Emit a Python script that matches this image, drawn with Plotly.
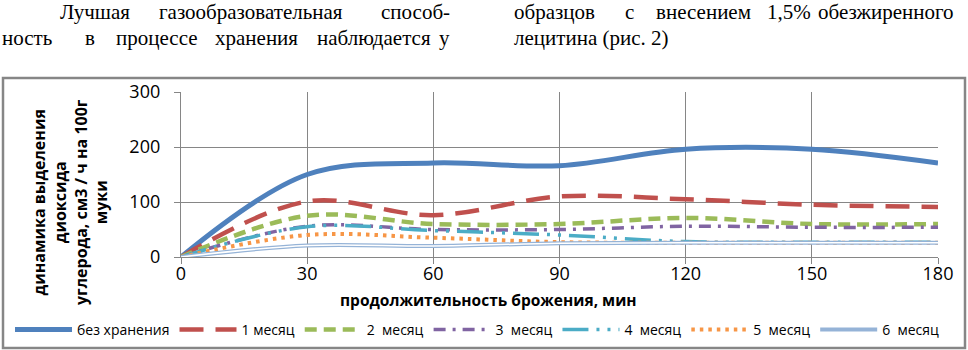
import plotly.graph_objects as go

# ---- data ----
minutes = [0, 30, 60, 90, 120, 150, 180]
series_names = ["без хранения", "1 месяц", "2\u00a0 месяц", "3\u00a0 месяц",
                "4\u00a0 месяц", "5\u00a0 месяц", "6\u00a0 месяц"]
no_storage = [0, 150, 171, 166, 196, 196, 171]
month_1 = [0, 101, 76, 110, 105, 95, 91]
month_2 = [0, 75, 60, 60, 71, 60, 60]
month_3 = [0, 56, 50, 50, 56, 54, 54]
month_4 = [0, 55, 48, 40, 28, 27, 27]
month_5 = [0, 40, 35, 27, 26, 26, 26]
month_6 = [0, 21, 20, 25, 26, 26, 26]
x_ticks = [0, 30, 60, 90, 120, 150, 180]
y_ticks = [0, 100, 200, 300]

# ---- layout geometry (window pixels) ----
W, H = 968, 350
PLOT_L, PLOT_R, PLOT_T, PLOT_B = 181, 938, 92, 257
L, R, T, B = PLOT_L, W - PLOT_R, PLOT_T, H - PLOT_B
PW, PH = W - L - R, H - T - B


def px(x):
    return (x - L) / PW


def py(y):
    return (H - B - y) / PH


styles = [
    dict(color="#4F81BD", width=5, dash="solid"),
    dict(color="#C0504D", width=4.5, dash="24px,12px"),
    dict(color="#9BBB59", width=4.5, dash="12px,7px"),
    dict(color="#8064A2", width=3.5, dash="12px,7px,3px,7px"),
    dict(color="#4BACC6", width=3.5, dash="26px,8px,3px,8px,3px,8px"),
    dict(color="#F79646", width=4, dash="3.5px,5px"),
    dict(color="#95B3D7", width=4, dash="solid"),
]
values = [no_storage, month_1, month_2, month_3, month_4, month_5, month_6]

fig = go.Figure()
for name, vals, st in zip(series_names, values, styles):
    fig.add_trace(go.Scatter(
        x=minutes, y=vals, name=name, mode="lines",
        line=dict(color=st["color"], width=st["width"], dash=st["dash"],
                  shape="spline", smoothing=1.0),
    ))
# inner white stroke for the double (compound) line of the last series
fig.add_trace(go.Scatter(
    x=minutes, y=month_6, mode="lines", showlegend=False, hoverinfo="skip",
    line=dict(color="white", width=1.5, shape="spline", smoothing=1.0),
))

grid = "#868686"
sans = "Open Sans, Noto Sans, sans-serif"
axis_font = dict(family=sans, size=18, color="#000")
fig.update_xaxes(
    range=[0, 180], tickvals=x_ticks, ticktext=[str(v) for v in x_ticks],
    showgrid=True, gridcolor=grid, gridwidth=1.3,
    showline=True, linecolor=grid, linewidth=1.3,
    ticks="outside", ticklen=6, tickcolor=grid, tickwidth=1.3,
    tickfont=axis_font, zeroline=False, ticklabelstandoff=-6,
)
fig.update_yaxes(
    range=[0, 300], tickvals=y_ticks, ticktext=[str(v) for v in y_ticks],
    showgrid=True, gridcolor=grid, gridwidth=1.3,
    showline=True, linecolor=grid, linewidth=1.3,
    ticks="outside", ticklen=6, tickcolor=grid, tickwidth=1.3,
    tickfont=axis_font, zeroline=False, ticklabelstandoff=10,
)

annotations = []
# y-axis title
annotations.append(dict(
    text="<b>динамика выделения<br>диоксида<br>углерода, см3 / ч на 100г<br>муки</b>",
    x=px(70), y=py(202), xref="paper", yref="paper", textangle=-90,
    showarrow=False, xanchor="center", yanchor="middle", align="center",
    font=dict(family=sans, size=16, color="#000"),
))
# x-axis title
annotations.append(dict(
    text="<b>продолжительность брожения, мин</b>",
    x=px(488), y=py(300), xref="paper", yref="paper", showarrow=False,
    xanchor="center", yanchor="middle",
    font=dict(family=sans, size=15.5, color="#000"),
))

# paragraph text above the figure (justified, placed word by word)
serif = dict(family="Liberation Serif, Times New Roman, serif", size=21, color="#000")
line1_words = [("Лучшая", 58, "left"), ("газообразовательная", 157, "left"),
               ("способ-", 452, "right"),
               ("образцов", 512, "left"), ("с", 623, "left"), ("внесением", 654, "left"),
               ("1,5%", 765, "left"), ("обезжиренного", 956, "right")]
line2_words = [("ность", 0, "left"), ("в", 83, "left"), ("процессе", 114, "left"),
               ("хранения", 213, "left"), ("наблюдается", 315, "left"), ("у", 452, "right"),
               ("лецитина (рис. 2)", 512, "left")]
for words, yy in ((line1_words, 12), (line2_words, 38)):
    for w, xx, anc in words:
        annotations.append(dict(
            text=w, x=px(xx), y=py(yy), xref="paper", yref="paper", showarrow=False,
            xanchor=anc, yanchor="middle", font=serif,
        ))

fig.update_layout(
    width=W, height=H, autosize=False,
    margin=dict(l=L, r=R, t=T, b=B, pad=0, autoexpand=False),
    paper_bgcolor="white", plot_bgcolor="white",
    showlegend=True,
    legend=dict(
        orientation="h", x=px(10), xanchor="left", y=py(330), yanchor="middle",
        font=dict(family=sans, size=14, color="#000"),
        itemwidth=57, bgcolor="rgba(0,0,0,0)", tracegroupgap=0,
    ),
    annotations=annotations,
    shapes=[dict(
        type="rect", xref="paper", yref="paper",
        x0=px(3), x1=px(965), y0=py(348), y1=py(78),
        line=dict(color="#868686", width=2.5), layer="below",
    )],
)

# remove the browser's default 8px page margin so the figure sits at (0, 0)
fig.write_html("out.html", config={"displayModeBar": False},
               post_script="document.body.style.margin='0px';")
